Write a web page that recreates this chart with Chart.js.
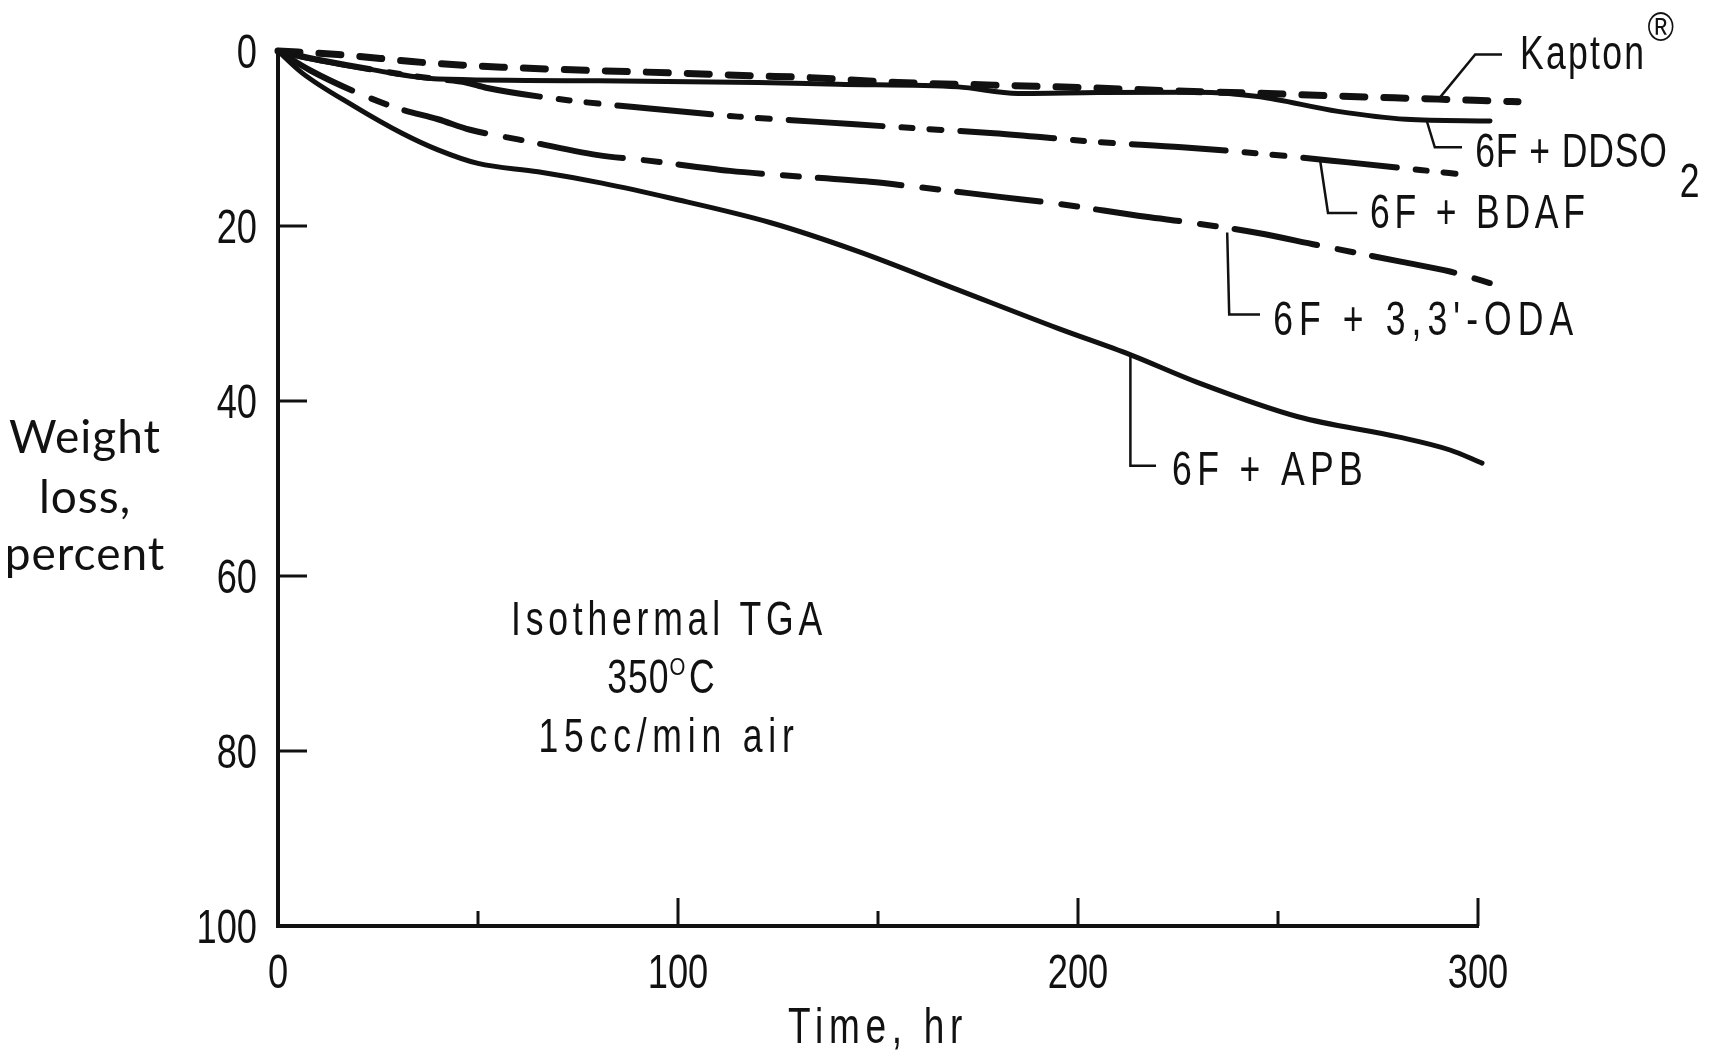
<!DOCTYPE html>
<html>
<head>
<meta charset="utf-8">
<title>Isothermal TGA, 350 C</title>
<script src="https://cdn.jsdelivr.net/npm/chart.js@4.4.1/dist/chart.umd.min.js"></script>
<style>
  html, body { margin: 0; padding: 0; background: #fff; }
  #wrap { width: 1712px; height: 1057px; }
</style>
</head>
<body>
<div id="wrap"><canvas id="tga" width="1712" height="1057"></canvas></div>
<script>
// axis ticks
const hourTicks = [0, 100, 200, 300];
const lossTicks = [0, 20, 40, 60, 80, 100];

// weight loss (percent) vs time (hr) for each film
const kaptonHours = [0, 15, 36, 56, 77, 98, 120, 131, 155, 179, 202, 227, 243, 265, 290, 310];
const kaptonLoss  = [0, 0.4, 1.3, 1.85, 2.2, 2.5, 2.85, 3.0, 3.6, 3.9, 4.2, 4.6, 4.8, 5.15, 5.5, 5.8];

const ddso2Hours = [0, 8, 23, 40, 80, 120, 140, 170, 185, 205, 230, 245, 265, 282, 303];
const ddso2Loss  = [0, 0.9, 2.1, 3.2, 3.4, 3.6, 3.8, 4.1, 4.85, 4.75, 4.7, 5.2, 6.9, 7.8, 8.0];

const bdafHours = [0, 10, 33, 40, 47, 52, 72, 89, 115, 135, 160, 179, 205, 226, 245, 267, 298];
const bdafLoss  = [0, 1.0, 2.8, 3.2, 3.6, 4.2, 5.6, 6.4, 7.5, 8.1, 8.85, 9.4, 10.4, 11.0, 11.7, 12.7, 14.2];

const odaHours = [0, 8, 21, 31, 40, 48, 60, 80, 92, 113, 126, 148, 159, 181, 194, 217, 228, 245, 260, 281, 293, 305];
const odaLoss  = [0, 2.2, 5.0, 6.7, 7.8, 9.0, 10.1, 11.9, 12.5, 13.7, 14.2, 14.95, 15.5, 16.7, 17.4, 18.95, 19.6, 20.8, 22.2, 24.1, 25.2, 26.8];

const apbHours = [0, 6, 19, 31, 40, 50, 65, 81, 98, 123, 145, 170, 195, 213, 230, 255, 280, 293, 301];
const apbLoss  = [0, 2.5, 6.3, 9.4, 11.3, 12.85, 13.8, 15.1, 16.8, 19.6, 22.9, 27.3, 31.7, 34.7, 37.9, 41.8, 44.1, 45.6, 47.1];

const INK = '#111';
const FACE = '"Liberation Sans", Arial, sans-serif';
const SQUEEZE = 0.74;   // narrow lettering

function series(hours, loss) {
    return hours.map((h, i) => ({ x: h, y: loss[i] }));
}

// draws horizontally squeezed text, returns the drawn width
function drawText(ctx, text, x, y, o) {
    const sq = o.squeeze || SQUEEZE;
    ctx.save();
    ctx.font = o.size + 'px ' + (o.family || FACE);
    ctx.letterSpacing = ((o.spacing || 0) / sq) + 'px';
    const w = ctx.measureText(text).width * sq;
    let left = x;
    if (o.align === 'center') left = x - w / 2;
    else if (o.align === 'right') left = x - w;
    ctx.translate(left, y);
    ctx.scale(sq, 1);
    ctx.textAlign = 'left';
    ctx.textBaseline = 'alphabetic';
    ctx.fillStyle = INK;
    ctx.fillText(text, 0, 0);
    ctx.restore();
    return w;
}

// labels with leader lines, in data units (hr, percent)
const callouts = [
    { text: 'Kapton', sup: '\u00AE', spacing: 2.3, path: [[290.5, 5.3], [299.3, 0.4], [306, 0.4]], at: [310.5, 2.1] },
    { text: '6F + DDSO', sub: '2', spacing: 0.9, path: [[287.2, 8.0], [289.2, 11.0], [296, 11.0]], at: [299.3, 13.2] },
    { text: '6F + BDAF', spacing: 4.8, path: [[260.5, 12.4], [262.5, 18.5], [269.8, 18.5]], at: [273, 20.2] },
    { text: "6F + 3,3'-ODA", spacing: 6.1, path: [[237.3, 20.75], [237.8, 30.1], [245.5, 30.1]], at: [248.8, 32.4] },
    { text: '6F + APB', spacing: 5.4, path: [[213.1, 34.7], [213.1, 47.4], [219.5, 47.4]], at: [223.5, 49.6] }
];

// tick marks point into the plot; tick labels in narrow lettering
const axisMarks = {
    id: 'axisMarks',
    afterDraw(chart) {
        const { ctx, chartArea, scales: { x, y } } = chart;
        ctx.save();
        ctx.strokeStyle = INK;
        ctx.lineWidth = 3;
        ctx.beginPath();
        x.ticks.forEach(t => {
            if (t.value <= x.min) return;
            const px = x.getPixelForValue(t.value);
            const len = hourTicks.includes(t.value) ? 28 : 15;
            ctx.moveTo(px, chartArea.bottom);
            ctx.lineTo(px, chartArea.bottom - len);
        });
        y.ticks.forEach(t => {
            if (t.value <= y.min || t.value >= y.max) return;
            const py = y.getPixelForValue(t.value);
            ctx.moveTo(chartArea.left, py);
            ctx.lineTo(chartArea.left + 29, py);
        });
        ctx.stroke();
        ctx.restore();

        x.ticks.forEach(t => {
            if (!hourTicks.includes(t.value)) return;
            drawText(ctx, String(t.value), x.getPixelForValue(t.value), chartArea.bottom + 62, { size: 49, align: 'center' });
        });
        y.ticks.forEach(t => {
            if (!lossTicks.includes(t.value)) return;
            drawText(ctx, String(t.value), chartArea.left - 21, y.getPixelForValue(t.value) + 17, { size: 49, align: 'right' });
        });
    }
};

// curve labels, axis titles and test conditions
const annotations = {
    id: 'annotations',
    afterDraw(chart) {
        const { ctx, chartArea, scales: { x, y } } = chart;
        ctx.save();
        ctx.strokeStyle = INK;
        ctx.lineWidth = 2.5;

        callouts.forEach(c => {
            ctx.beginPath();
            c.path.forEach(([h, l], i) => {
                const px = x.getPixelForValue(h), py = y.getPixelForValue(l);
                if (i === 0) ctx.moveTo(px, py); else ctx.lineTo(px, py);
            });
            ctx.stroke();

            const tx = x.getPixelForValue(c.at[0]);
            const ty = y.getPixelForValue(c.at[1]);
            const w = drawText(ctx, c.text, tx, ty, { size: 48, spacing: c.spacing });
            if (c.sup) {
                drawText(ctx, c.sup, tx + w + 1, ty - 28, { size: 40, squeeze: 0.9 });
            }
            if (c.sub) {
                drawText(ctx, c.sub, tx + w + 12, ty + 30, { size: 48 });
            }
        });

        // test conditions
        const cx = x.getPixelForValue(97.75);
        const cy = y.getPixelForValue(66.7);
        drawText(ctx, 'Isothermal TGA', cx, cy, { size: 48, spacing: 4.8, align: 'center' });
        drawText(ctx, '15cc/min air', cx, cy + 117, { size: 48, spacing: 5.8, align: 'center' });
        // 350, a raised O, then C
        ctx.font = '48px ' + FACE;
        const a = ctx.measureText('350').width * SQUEEZE + 3;
        ctx.font = '25px ' + FACE;
        const o = ctx.measureText('O').width * 0.85 + 3;
        ctx.font = '48px ' + FACE;
        const c = ctx.measureText('C').width * SQUEEZE;
        const sx = cx - 8 - (a + o + c) / 2;
        drawText(ctx, '350', sx, cy + 58, { size: 48, spacing: 1 });
        drawText(ctx, 'O', sx + a, cy + 40, { size: 24, squeeze: 0.85 });
        drawText(ctx, 'C', sx + a + o, cy + 58, { size: 48 });

        // y axis title, stacked horizontally
        ctx.font = '46px Lato, "Open Sans", sans-serif';
        ctx.letterSpacing = '1px';
        ctx.fillStyle = INK;
        ctx.textAlign = 'center';
        ctx.textBaseline = 'alphabetic';
        const yx = y.left + 85;
        ctx.fillText('Weight', yx, y.getPixelForValue(45.9));
        ctx.fillText('loss,', yx, y.getPixelForValue(52.8));
        ctx.fillText('percent', yx, y.getPixelForValue(59.3));
        ctx.restore();

        // x axis title
        drawText(ctx, 'Time, hr', (chartArea.left + chartArea.right) / 2, chart.height - 14, { size: 50, spacing: 5.7, align: 'center' });
    }
};

const lineDefaults = {
    borderColor: INK,
    pointRadius: 0,
    fill: false,
    cubicInterpolationMode: 'monotone',
    clip: false,
    borderCapStyle: 'round',
    borderJoinStyle: 'round'
};

const datasets = [
    { label: 'Kapton', data: series(kaptonHours, kaptonLoss), borderWidth: 7, borderDash: [22, 19] },
    { label: '6F + DDSO2', data: series(ddso2Hours, ddso2Loss), borderWidth: 5 },
    { label: '6F + BDAF', data: series(bdafHours, bdafLoss), borderWidth: 6, borderDash: [94, 19, 11, 17, 12, 19] },
    { label: "6F + 3,3'-ODA", data: series(odaHours, odaLoss), borderWidth: 6, borderDash: [84, 21, 16, 19] },
    { label: '6F + APB', data: series(apbHours, apbLoss), borderWidth: 5 }
].map(d => Object.assign({}, lineDefaults, d));

new Chart(document.getElementById('tga'), {
    type: 'line',
    data: { datasets: datasets },
    options: {
        responsive: false,
        animation: false,
        events: [],
        layout: { padding: { top: 51, right: 234, bottom: 0, left: 0 } },
        plugins: { legend: { display: false }, tooltip: { enabled: false } },
        scales: {
            x: {
                type: 'linear',
                min: 0,
                max: 300,
                grid: { display: false, drawTicks: false },
                border: { display: true, color: INK, width: 4 },
                ticks: { display: false, stepSize: 50, autoSkip: false },
                afterFit: s => { s.height = 131; }
            },
            y: {
                type: 'linear',
                reverse: true,
                min: 0,
                max: 100,
                grid: { display: false, drawTicks: false },
                border: { display: true, color: INK, width: 4 },
                ticks: { display: false, stepSize: 20 },
                afterFit: s => { s.width = 278; }
            }
        }
    },
    plugins: [axisMarks, annotations]
});
</script>
</body>
</html>
